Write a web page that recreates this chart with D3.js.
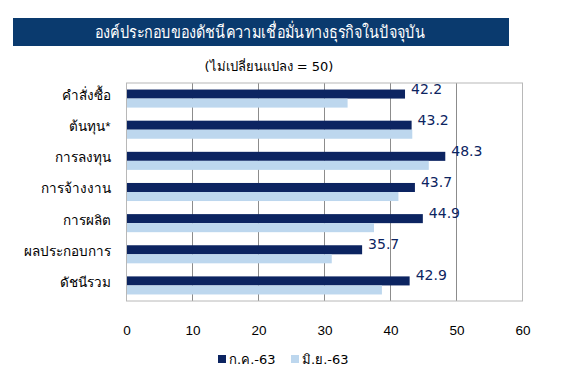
<!DOCTYPE html>
<html><head><meta charset="utf-8">
<script src="https://cdn.jsdelivr.net/npm/d3@7/dist/d3.min.js"></script>
<style>body{margin:0;background:#fff;}svg{display:block;font-family:Tahoma,"DejaVu Sans","Noto Sans",sans-serif;}</style>
</head><body><svg id="c" width="579" height="376"></svg>
<script>
const categories = ["คำสั่งซื้อ","ต้นทุน*","การลงทุน","การจ้างงาน","การผลิต","ผลประกอบการ","ดัชนีรวม"];
const seriesNames = ["ก.ค.-63","มิ.ย.-63"];
const julValues = [42.2,43.2,48.3,43.7,44.9,35.7,42.9];
const junValues = [33.5,43.3,45.8,41.2,37.5,31.1,38.7];
const xTicks = [0,10,20,30,40,50,60];
const title = "องค์ประกอบของดัชนีความเชื่อมั่นทางธุรกิจในปัจจุบัน";
const subtitle = "(ไม่เปลี่ยนแปลง  = 50)";

(function(){
const colors = ["#0c2461","#bdd7ee"];
const svg = d3.select("#c");
const pL = 126.5, pR = 522.5, pT = 83, pB = 301;

svg.append("rect").attr("x",13).attr("y",18).attr("width",496).attr("height",28).attr("fill","#0a3a6e");
svg.append("text").attr("x",260).attr("y",38).attr("text-anchor","middle").attr("fill","#fff")
  .attr("font-size",17).attr("font-weight","normal")
  .attr("textLength",330).attr("lengthAdjust","spacingAndGlyphs").text(title);
svg.append("text").attr("x",269).attr("y",71).attr("text-anchor","middle").attr("fill","#000")
  .attr("font-size",13).text(subtitle);

const x = d3.scaleLinear().domain([0,60]).range([pL,pR]);
const y = d3.scaleBand().domain(categories).range([pT,pB]).paddingInner(0.42).paddingOuter(0.21);
const sub = d3.scaleBand().domain([0,1]).range([0,y.bandwidth()]);

svg.append("g").selectAll("line").data(xTicks.slice(1,-1)).join("line")
  .attr("x1",d=>x(d)).attr("x2",d=>x(d)).attr("y1",pT).attr("y2",pB)
  .attr("stroke","#8c8c8c").attr("stroke-width",1);

const data = categories.map((c,i)=>({c, v:[julValues[i],junValues[i]]}));
const g = svg.append("g");
data.forEach(d=>{
  [0,1].forEach(s=>{
    g.append("rect").attr("x",x(0)).attr("y",y(d.c)+sub(s))
     .attr("width",x(d.v[s])-x(0)).attr("height",sub.bandwidth()).attr("fill",colors[s]);
  });
  g.append("text").attr("x",x(d.v[0])+6).attr("y",y(d.c)+sub(0)+4)
   .attr("fill","#0c2461").attr("font-size",14).text(d.v[0].toFixed(1));
});

svg.append("rect").attr("x",pL).attr("y",pT).attr("width",pR-pL).attr("height",pB-pT)
  .attr("fill","none").attr("stroke","#b8b8b8").attr("stroke-width",1);

const yAxis = svg.append("g").attr("transform",`translate(${pL},0)`)
  .call(d3.axisLeft(y).tickSize(0).tickPadding(16));
yAxis.select(".domain").remove();
yAxis.selectAll("text").attr("font-size",13.5).attr("fill","#000").attr("font-family","inherit")
  .attr("dy","0.1em");

const xAxis = svg.append("g").attr("transform",`translate(0,${pB})`)
  .call(d3.axisBottom(x).tickValues(xTicks).tickSize(0).tickPadding(24));
xAxis.select(".domain").remove();
xAxis.selectAll("text").attr("font-size",13.5).attr("fill","#000").attr("font-family","inherit");

const leg = svg.append("g");
const lx = [218, 291];
seriesNames.forEach((n,i)=>{
  leg.append("rect").attr("x",lx[i]).attr("y",355).attr("width",8).attr("height",8).attr("fill",colors[i]);
  leg.append("text").attr("x",lx[i]+11).attr("y",364).attr("font-size",13).attr("fill","#000").text(n);
});
})();
</script></body></html>
